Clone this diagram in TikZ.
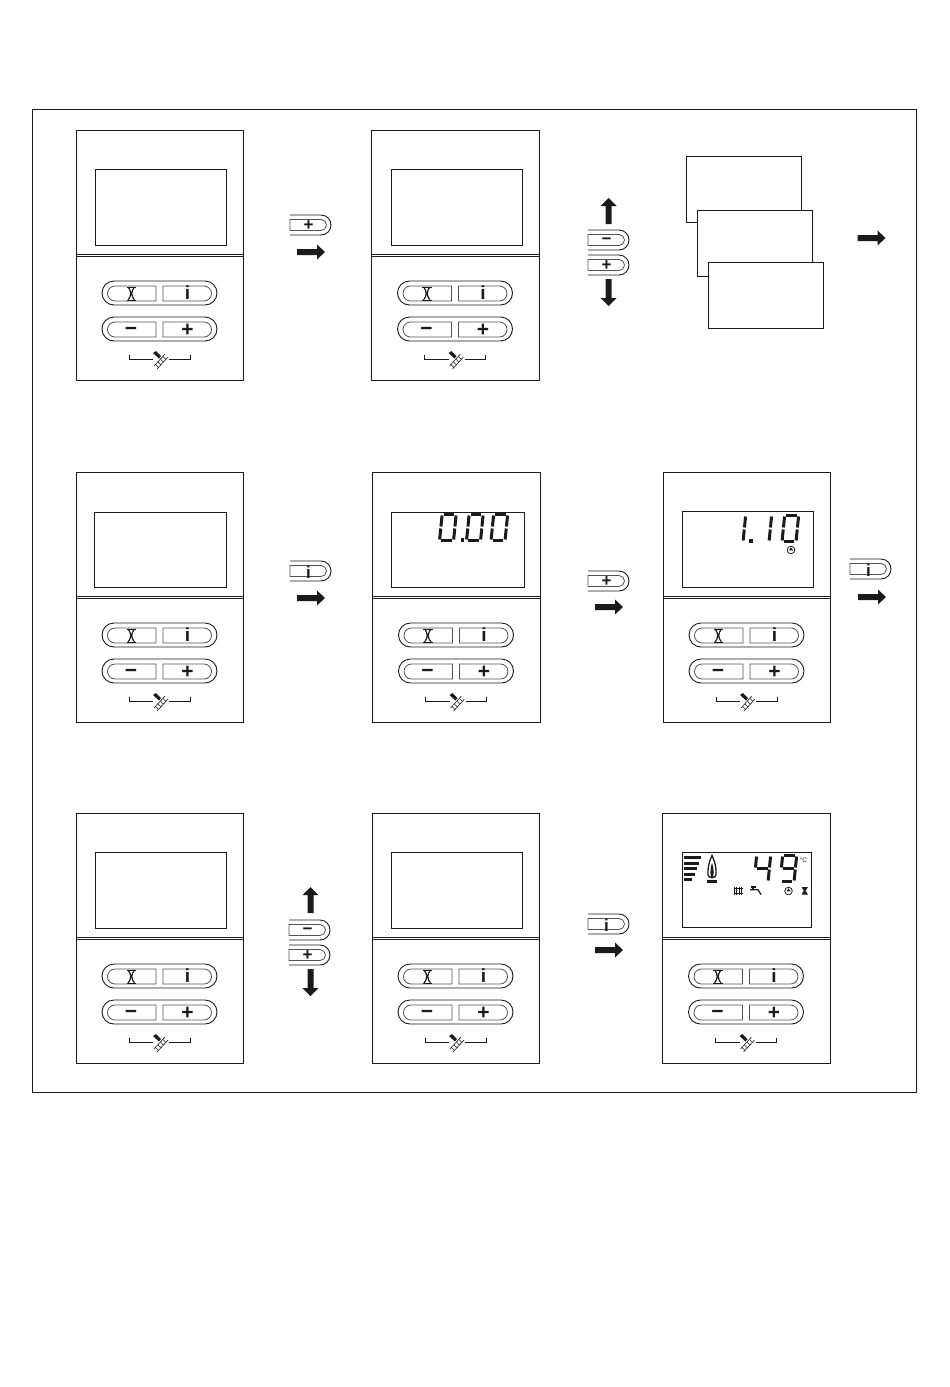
\documentclass[tikz,border=0pt]{standalone}
\usepackage{fontspec}
\setmainfont{Liberation Sans}
\definecolor{ink}{HTML}{1A1A1A}
\tikzset{
  base/.style={draw=ink,line width=1pt},
  pill/.style={draw=ink,line width=.9pt},
  inner/.style={draw=ink!75,line width=.8pt},
  glyph/.style={text=ink,inner sep=0pt,font=\bfseries\fontsize{21}{21}\selectfont},
  seg/.style={draw=ink,line width=3pt}
}
\newcommand{\panel}[8]{%
  \draw[base,fill=white] (#2,#3) rectangle (#4,#3+250);
  \draw[base] (#5,#6) rectangle (#7,#8);
  \draw[base] (#2,#3+124) -- (#4,#3+124);
  \draw[base] (#2,#3+126) -- (#4,#3+126);
  \begin{scope}[shift={(0.5*#2+0.5*#4-83.5,#3)}]
    \draw[pill] (38,151) -- (129,151) arc[start angle=-90,end angle=90,radius=12] -- (38,175) arc[start angle=90,end angle=270,radius=12] -- cycle;
    \draw[pill] (38,187) -- (129,187) arc[start angle=-90,end angle=90,radius=12] -- (38,211) arc[start angle=90,end angle=270,radius=12] -- cycle;
    \draw[inner] (80,156) -- (39,156) arc[start angle=270,end angle=90,radius=7.5] -- (80,171) -- cycle;
    \draw[inner] (87,156) -- (128,156) arc[start angle=-90,end angle=90,radius=7.5] -- (87,171) -- cycle;
    \draw[inner] (80,192) -- (39,192) arc[start angle=270,end angle=90,radius=7.5] -- (80,207) -- cycle;
    \draw[inner] (87,192) -- (128,192) arc[start angle=-90,end angle=90,radius=7.5] -- (87,207) -- cycle;
    % chimney-sweep glyph
    \draw[draw=ink,line width=.9pt] (50.5,157) -- (60,157) (50.5,170) -- (60,170);
    \draw[draw=ink,line width=1pt] (52,157) .. controls (55.5,161) and (55.5,166) .. (52,170);
    \draw[draw=ink,line width=1pt] (58.5,157) .. controls (55,161) and (55,166) .. (58.5,170);
    \draw[draw=ink,line width=.7pt] (53,158) -- (57.5,169) (57.5,158) -- (53,169);
    % i, minus, plus
    \node[glyph,font=\bfseries\fontsize{19}{19}\selectfont] (#1-i) at (111.5,163) {i};
    \node[glyph] (#1-minus) at (55,201) {−};
    \node[glyph] (#1-plus) at (111.5,200.5) {+};
    % bracket with bell and ladder
    \draw[draw=ink,line width=.9pt] (53,225) -- (53,229) -- (77,229);
    \draw[draw=ink,line width=.9pt] (93,229) -- (114,229) -- (114,225);
    \fill[ink] (77,223) -- (80,221) -- (85,226) -- (83,228.5) -- cycle;
    \draw[draw=ink,line width=.6pt] (78,236) -- (89,224) (81,239) -- (92,227);
    \draw[draw=ink,line width=.6pt] (79.5,234.5) -- (82.5,237.5) (82,232) -- (85,235) (84.5,229.2) -- (87.5,232.2) (87,226.5) -- (90,229.5);
  \end{scope}}
\newcommand{\halfkey}[4]{%
  \begin{scope}[shift={(#2,#3)}]
    \draw[pill] (0,0) -- (31,0) arc[start angle=-90,end angle=90,radius=10] -- (0,20);
    \draw[inner] (0,4.5) -- (31,4.5) arc[start angle=-90,end angle=90,radius=5.5] -- (0,15.5) -- cycle;
    \node[glyph,font=\bfseries\fontsize{17}{17}\selectfont] (#1) at (18.5,11) {#4};
  \end{scope}}
\newcommand{\arrowR}[2]{\fill[ink] (#1,#2-3) -- (#1+20,#2-3) -- (#1+20,#2-7.5) -- (#1+28,#2) -- (#1+20,#2+7.5) -- (#1+20,#2+3) -- (#1,#2+3) -- cycle;}
\newcommand{\arrowU}[2]{\fill[ink] (#1,#2) -- (#1+8,#2+8) -- (#1+3,#2+8) -- (#1+3,#2+26) -- (#1-3,#2+26) -- (#1-3,#2+8) -- (#1-8,#2+8) -- cycle;}
\newcommand{\arrowD}[2]{\fill[ink] (#1,#2) -- (#1+8,#2-8) -- (#1+3,#2-8) -- (#1+3,#2-27) -- (#1-3,#2-27) -- (#1-3,#2-8) -- (#1-8,#2-8) -- cycle;}
\newcommand{\SegA}{\draw[seg] (1.8,0.5) -- (12.2,0.5);}
\newcommand{\SegB}{\draw[seg] (14,1.5) -- (14,12.5);}
\newcommand{\SegC}{\draw[seg] (14,14.5) -- (14,25.5);}
\newcommand{\SegD}{\draw[seg] (1.8,26.5) -- (12.2,26.5);}
\newcommand{\SegE}{\draw[seg] (0,14.5) -- (0,25.5);}
\newcommand{\SegF}{\draw[seg] (0,1.5) -- (0,12.5);}
\newcommand{\SegG}{\draw[seg] (1.8,13.5) -- (12.2,13.5);}
\newcommand{\digit}[3]{\begin{scope}[shift={(#1,#2)},cm={1,0,0.1,1,(0,0)}]\begin{scope}[shift={(2.7,0)}]#3\end{scope}\end{scope}}
\newcommand{\clockicon}[2]{%
  \draw[draw=ink,line width=.8pt] (#1,#2) circle[radius=3.8];
  \fill[ink] (#1-2.2,#2+.4) -- (#1,#2-2.6) -- (#1+2.2,#2+.4) -- cycle;}
\begin{document}
\begin{tikzpicture}[x=1pt,y=-1pt]
\useasboundingbox (0,0) rectangle (950,1387);
\fill[white] (0,0) rectangle (950,1387);
\draw[base] (32,109) rectangle (916,1092);
% row 1
\panel{pa}{76}{130}{243}{95}{169}{226}{245}
\panel{pb}{371}{130}{539}{391}{169}{522}{245}
\halfkey{ka}{290}{215}{+}
\arrowR{297}{252}
\arrowU{608.5}{198}
\halfkey{kb}{588}{230}{−}
\halfkey{kc}{588}{255}{+}
\arrowD{608.5}{306}
\draw[base,fill=white] (686,156) rectangle (801.5,222);
\draw[base,fill=white] (697,210) rectangle (812.5,276);
\draw[base,fill=white] (708,262) rectangle (823.5,328);
\arrowR{857.5}{238}
% row 2
\panel{pc}{76}{472}{243}{94}{512}{226}{587}
\panel{pd}{372}{472}{540}{391}{512}{524}{587}
\panel{pe}{663}{472}{830}{682}{511}{813}{587}
\halfkey{kd}{290}{561}{i}
\arrowR{297}{598}
\halfkey{ke}{588}{571}{+}
\arrowR{595}{607}
\halfkey{kf}{850}{559}{i}
\arrowR{858}{597}
\digit{439.5}{514}{\SegA\SegB\SegC\SegD\SegE\SegF}
\fill[ink] (460.5,537.5) rectangle (464,541.5);
\digit{466.5}{514}{\SegA\SegB\SegC\SegD\SegE\SegF}
\digit{491}{514}{\SegA\SegB\SegC\SegD\SegE\SegF}
\digit{729}{515}{\SegB\SegC}
\fill[ink] (749,538.5) rectangle (752.5,542.5);
\digit{755}{515}{\SegB\SegC}
\digit{782}{515}{\SegA\SegB\SegC\SegD\SegE\SegF}
\clockicon{791}{550}
% row 3
\panel{pf}{76}{813}{243}{95}{852}{226}{928}
\panel{pg}{372}{813}{539}{391}{852}{522}{928}
\panel{ph}{662}{813}{830}{682}{852}{811}{927}
\arrowU{310.5}{887}
\halfkey{kg}{289}{920}{−}
\halfkey{kh}{289}{945}{+}
\arrowD{310.5}{996}
\halfkey{ki}{588}{914}{i}
\arrowR{595}{950}
% bars
\foreach \yy/\xx in {857/701,863/699,868.5/697,874/694.5,879/691.5}{\fill[ink] (684,\yy-1.5) rectangle (\xx,\yy+1.5);}
% flame
\draw[draw=ink,line width=1.3pt] (712,855.5) .. controls (709,862) and (707.5,868) .. (708,875) .. controls (708.5,878.5) and (715.5,878.5) .. (716,875) .. controls (716.5,868) and (715,862) .. (712,855.5) -- cycle;
\fill[ink] (712,863) .. controls (710.5,867) and (710,872) .. (710.8,877) -- (713.2,877) .. controls (714,872) and (713.5,867) .. (712,863) -- cycle;
\fill[ink] (707,880) rectangle (717,882.5);
% 49
\digit{754}{855}{\SegB\SegC\SegF\SegG}
\digit{780}{855}{\SegA\SegB\SegC\SegD\SegF\SegG}
\node[inner sep=0pt,text=ink,font=\fontsize{6.5}{6.5}\selectfont] (deg) at (803.5,860) {°C};
% radiator
\draw[draw=ink,line width=.8pt] (733.5,888) -- (742.5,888) (733.5,893.5) -- (742.5,893.5);
\draw[draw=ink,line width=1.2pt] (734.5,887) -- (734.5,894.5) (736.8,887) -- (736.8,894.5) (739.1,887) -- (739.1,894.5) (741.4,887) -- (741.4,894.5);
% tap
\draw[draw=ink,line width=1.3pt] (750,889.8) -- (758,889.8) -- (761,894.5);
\draw[draw=ink,line width=1.3pt] (753,887) -- (753,889.8) (750.5,887) -- (755.5,887);
% clock, hourglass
\clockicon{788.5}{891}
\fill[ink] (801.5,887) -- (808,887) -- (805.6,890.7) -- (808,894.5) -- (801.5,894.5) -- (803.9,890.7) -- cycle;
\end{tikzpicture}
\end{document}
